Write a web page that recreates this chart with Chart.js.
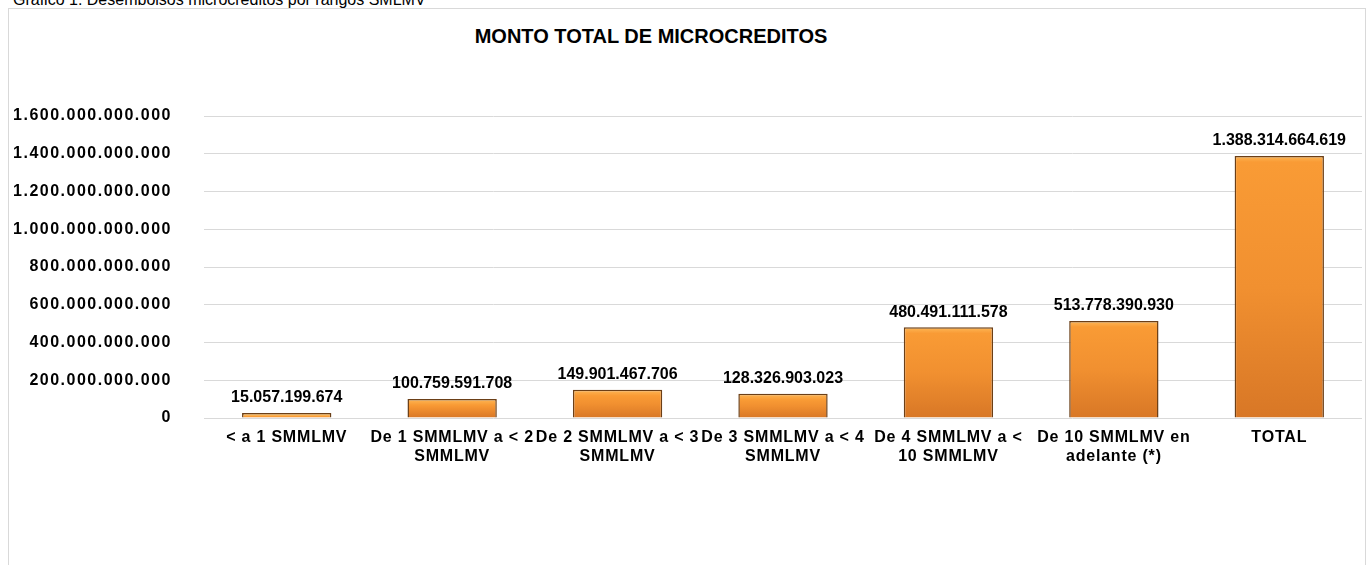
<!DOCTYPE html>
<html>
<head>
<meta charset="utf-8">
<script src="https://cdn.jsdelivr.net/npm/chart.js@4"></script>
<style>
  body { margin: 0; background: #fff; font-family: "Liberation Sans", Arial, sans-serif; overflow: hidden; }
  .caption { position: absolute; left: 13px; top: -8px; font-size: 16px; line-height: 16px; color: #000; white-space: nowrap; }
  .frame { position: absolute; left: 8px; top: 8px; width: 1356px; height: 600px; border: 1px solid #d9d9d9; border-bottom: none; }
  .heading { position: absolute; left: 300px; width: 702px; top: 25px; text-align: center; font-size: 20px; font-weight: bold; color: #000; }
  .chart-container { position: absolute; left: 9px; top: 9px; width: 1355px; height: 556px; }
</style>
</head>
<body>
<div class="caption">Gráfico 1: Desembolsos microcréditos por rangos SMLMV</div>
<div class="frame"></div>
<div class="heading">MONTO TOTAL DE MICROCREDITOS</div>
<div class="chart-container"><canvas id="myChart" width="1355" height="556"></canvas></div>
<script>
const categories = [
  ['< a 1 SMMLMV'],
  ['De 1 SMMLMV a < 2', 'SMMLMV'],
  ['De 2 SMMLMV a < 3', 'SMMLMV'],
  ['De 3 SMMLMV a < 4', 'SMMLMV'],
  ['De 4 SMMLMV a <', '10 SMMLMV'],
  ['De 10 SMMLMV en', 'adelante (*)'],
  ['TOTAL']
];
const montos = [15057199674, 100759591708, 149901467706, 128326903023, 480491111578, 513778390930, 1388314664619];
const yMax = 1600000000000;
const yStep = 200000000000;

const fmt = (v) => Math.round(v).toString().replace(/\B(?=(\d{3})+(?!\d))/g, '.');
const FONT = '"Liberation Sans", Arial, sans-serif';

const ctx = document.getElementById('myChart');

const barGradient = (context) => {
  const chart = context.chart;
  const y = chart.scales.y;
  if (!y || context.raw == null) return '#f39433';
  const top = y.getPixelForValue(context.raw);
  const base = y.getPixelForValue(0);
  if (!isFinite(top) || !isFinite(base)) return '#f39433';
  const g = chart.ctx.createLinearGradient(0, top, 0, Math.max(base, top + 1));
  g.addColorStop(0, '#fdb858');
  g.addColorStop(Math.min(0.5, 6 / Math.max(base - top, 1)), '#f99b35');
  g.addColorStop(0.5, '#f19030');
  g.addColorStop(1, '#d87726');
  return g;
};

const valueLabels = {
  id: 'valueLabels',
  afterDatasetsDraw(chart) {
    const c = chart.ctx;
    const meta = chart.getDatasetMeta(0);
    c.save();
    c.font = 'bold 16px ' + FONT;
    c.fillStyle = '#000';
    c.textAlign = 'center';
    c.textBaseline = 'bottom';
    meta.data.forEach((bar, i) => {
      c.fillText(fmt(montos[i]), bar.x, bar.y - 7);
    });
    c.restore();
  }
};

const chart = new Chart(ctx, {
  type: 'bar',
  data: {
    labels: categories,
    datasets: [{
      data: montos,
      backgroundColor: barGradient,
      borderColor: '#6b3f17',
      borderWidth: 1.5,
      barPercentage: 0.54,
      categoryPercentage: 1,
      minBarLength: 5
    }]
  },
  options: {
    responsive: false,
    animation: false,
    layout: { padding: { top: 107, right: 2, left: 0, bottom: 0 } },
    plugins: {
      legend: { display: false },
      title: { display: false },
      tooltip: { enabled: false }
    },
    scales: {
      x: {
        grid: { display: false, drawTicks: false },
        border: { display: false },
        ticks: {
          color: '#000',
          font: { family: FONT, size: 16, weight: 'bold' },
          padding: 10,
          maxRotation: 0,
          autoSkip: false
        },
        afterFit(scale) { scale.height = 147; }
      },
      y: {
        min: 0,
        max: yMax,
        grid: { color: '#d9d9d9', lineWidth: 1, drawTicks: false },
        border: { display: false },
        ticks: {
          stepSize: yStep,
          color: '#000',
          padding: 32,
          font: { family: FONT, size: 16, weight: 'bold' },
          callback: (v) => fmt(v)
        },
        afterFit(scale) { scale.width = 195; }
      }
    }
  },
  plugins: [valueLabels]
});

// wider letter spacing on axis labels, as in the original
const spaced = (scale, px) => {
  const orig = scale.drawLabels;
  scale.drawLabels = function (area) {
    const c = this.ctx;
    c.save();
    c.letterSpacing = px;
    orig.call(this, area);
    c.restore();
  };
};
spaced(chart.scales.y, '1.5px');
spaced(chart.scales.x, '0.8px');
chart.update();
</script>
</body>
</html>
